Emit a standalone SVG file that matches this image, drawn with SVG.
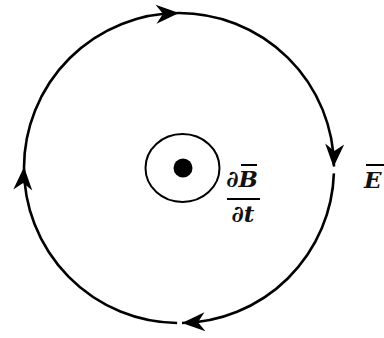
<svg xmlns="http://www.w3.org/2000/svg" width="384" height="338" viewBox="0 0 384 338">
<style>
.loop{fill:none;stroke:#000;stroke-width:2.6}
.bar{stroke:#000;stroke-width:2}
.lbl{font-family:"DejaVu Serif","Liberation Serif",serif;font-weight:bold;font-style:italic;font-size:23px;fill:#111}
</style>
<defs>
<path id="head" d="M0,0 L-23,-9.5 L-16,0 L-23,9.5 Z" fill="#000"/>
</defs>
<rect width="384" height="338" fill="#fff"/>
<g id="connectors">
<path class="loop" d="M333.9,173.4 A155,155 0 0 1 182,323"/>
<path class="loop" d="M177.1,323 A155,155 0 1 1 334,166.6"/>
<use href="#head" transform="translate(179,13) rotate(-3)"/>
<use href="#head" transform="translate(333.5,167) rotate(93)"/>
<use href="#head" transform="translate(182,323) rotate(177)"/>
<use href="#head" transform="translate(24,167) rotate(-87)"/>
</g>
<g id="source">
<ellipse cx="182.5" cy="168" rx="37" ry="34" fill="none" stroke="#000" stroke-width="2"/>
<circle cx="183" cy="168" r="9.5" fill="#000"/>
</g>
<g id="dBdt">
<text class="lbl" x="242" y="187" text-anchor="middle">∂B</text>
<line class="bar" x1="241" y1="165" x2="257" y2="165"/>
<line class="bar" x1="227" y1="199" x2="260" y2="199"/>
<text class="lbl" x="243" y="222" text-anchor="middle">∂t</text>
</g>
<g id="E">
<text class="lbl" x="364" y="188">E</text>
<line class="bar" x1="366" y1="165" x2="384" y2="165"/>
</g>
</svg>
